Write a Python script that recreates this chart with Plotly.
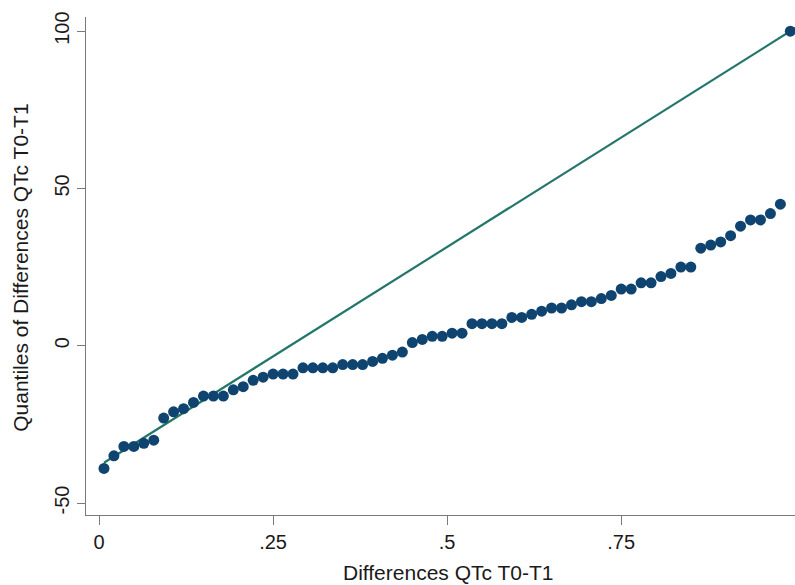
import plotly.graph_objects as go

# Fraction of the data (uniform quantile positions)
fraction = [0.0071, 0.0214, 0.0357, 0.05, 0.0643, 0.0786, 0.0929, 0.1071, 0.1214, 0.1357,
            0.15, 0.1643, 0.1786, 0.1929, 0.2071, 0.2214, 0.2357, 0.25, 0.2643, 0.2786,
            0.2929, 0.3071, 0.3214, 0.3357, 0.35, 0.3643, 0.3786, 0.3929, 0.4071, 0.4214,
            0.4357, 0.45, 0.4643, 0.4786, 0.4929, 0.5071, 0.5214, 0.5357, 0.55, 0.5643,
            0.5786, 0.5929, 0.6071, 0.6214, 0.6357, 0.65, 0.6643, 0.6786, 0.6929, 0.7071,
            0.7214, 0.7357, 0.75, 0.7643, 0.7786, 0.7929, 0.8071, 0.8214, 0.8357, 0.85,
            0.8643, 0.8786, 0.8929, 0.9071, 0.9214, 0.9357, 0.95, 0.9643, 0.9786, 0.9929]

# Ordered differences QTc T0-T1
qtc_diff = [-39, -35, -32, -32, -31, -30, -23, -21, -20, -18,
            -16, -16, -16, -14, -13, -11, -10, -9, -9, -9,
            -7, -7, -7, -7, -6, -6, -6, -5, -4, -3,
            -2, 1, 2, 3, 3, 4, 4, 7, 7, 7,
            7, 9, 9, 10, 11, 12, 12, 13, 14, 14,
            15, 16, 18, 18, 20, 20, 22, 23, 25, 25,
            31, 32, 33, 35, 38, 40, 40, 42, 45, 100]

# Reference line (uniform distribution)
ref_x = [0.0071, 1.0]
ref_y = [-37.2, 101.0]

x_ticks = [0, 0.25, 0.5, 0.75, 1]
x_tick_text = ["0", ".25", ".5", ".75", "1"]
y_ticks = [-50, 0, 50, 100]
y_tick_text = ["-50", "0", "50", "100"]

marker_color = "#0f4470"
line_color = "#22766a"
axis_color = "#7a7a7a"
font_family = "Liberation Sans, Arial, sans-serif"

fig = go.Figure()
fig.add_trace(go.Scatter(
    x=ref_x, y=ref_y, mode="lines",
    line=dict(color=line_color, width=2.2),
    hoverinfo="skip", showlegend=False,
))
fig.add_trace(go.Scatter(
    x=fraction, y=qtc_diff, mode="markers",
    marker=dict(color=marker_color, size=11, line=dict(width=0)),
    cliponaxis=False, showlegend=False,
))

fig.update_layout(
    width=795, height=585,
    margin=dict(l=86, r=0, t=17, b=70),
    paper_bgcolor="white", plot_bgcolor="white",
    font=dict(family=font_family, color="#1a1a1a", size=20),
    showlegend=False,
    xaxis=dict(
        range=[-0.0187, 0.9996],
        tickvals=x_ticks, ticktext=x_tick_text,
        showgrid=False, zeroline=False,
        showline=True, linecolor=axis_color, linewidth=1.3,
        ticks="outside", ticklen=9, tickcolor=axis_color, tickwidth=1.3,
        tickfont=dict(size=20),
    ),
    yaxis=dict(
        range=[-53.8, 104.5],
        tickvals=y_ticks, ticktext=y_tick_text,
        tickangle=-90,
        showgrid=False, zeroline=False,
        showline=True, linecolor=axis_color, linewidth=1.3,
        ticks="outside", ticklen=8, tickcolor=axis_color, tickwidth=1.3,
        tickfont=dict(size=20),
    ),
    annotations=[
        dict(text="Differences QTc T0-T1", xref="paper", yref="paper",
             x=(447.5 - 86) / 709, y=(514.7 - 572.5) / 498,
             xanchor="center", yanchor="middle", showarrow=False,
             borderpad=0, font=dict(size=21)),
        dict(text="Quantiles of Differences QTc T0-T1", xref="paper", yref="paper",
             x=(21 - 86) / 709, y=(514.7 - 267.5) / 498, textangle=-90,
             xanchor="center", yanchor="middle", showarrow=False,
             font=dict(size=21)),
    ],
)

fig.write_html(
    "out.html",
    config={"displayModeBar": False},
    post_script="document.body.style.margin='0';document.body.style.overflow='hidden';",
)
